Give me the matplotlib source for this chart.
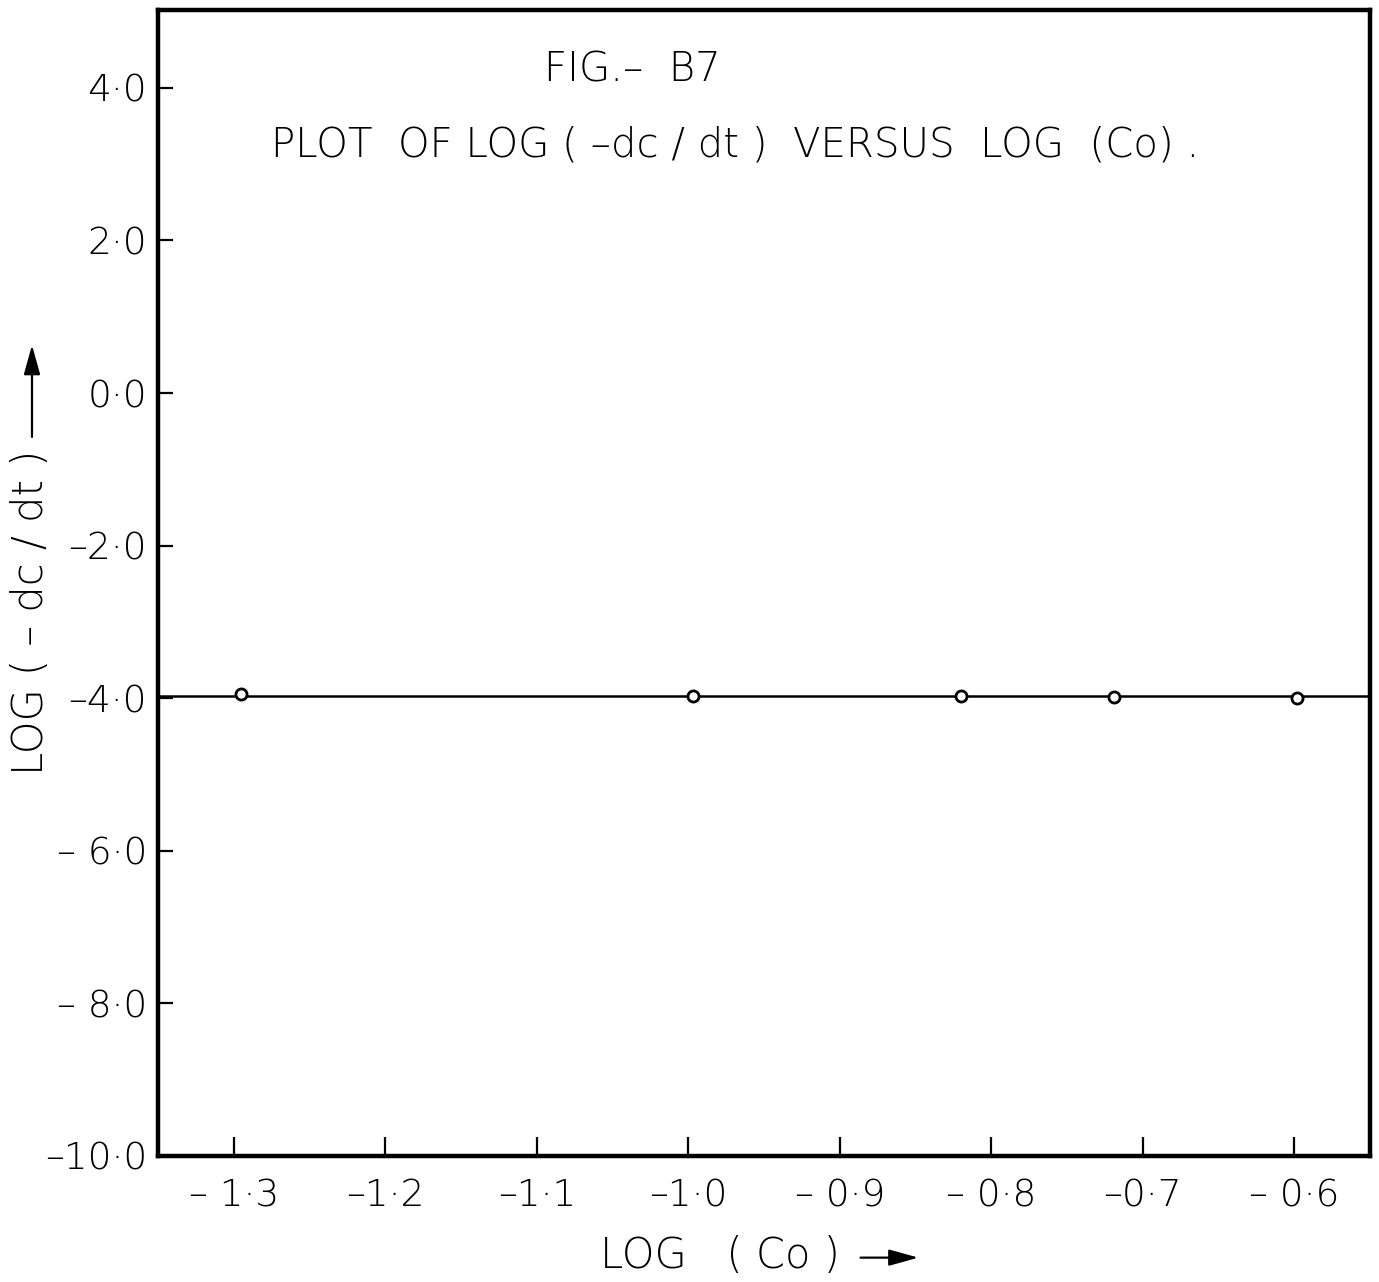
import matplotlib
matplotlib.use("Agg")
import matplotlib.pyplot as plt
import numpy as np

# log(Co) against log(-dc/dt)
log_co = [-1.295, -0.997, -0.820, -0.719, -0.598]
log_rate = [-3.95, -3.97, -3.97, -3.98, -4.00]

x_ticks = [-1.3, -1.2, -1.1, -1.0, -0.9, -0.8, -0.7, -0.6]
x_tick_labels = ["– 1·3", "–1·2", "–1·1", "–1·0", "– 0·9", "– 0·8", "–0·7", "– 0·6"]
y_ticks = [4.0, 2.0, 0.0, -2.0, -4.0, -6.0, -8.0, -10.0]
y_tick_labels = ["4·0", "2·0", "0·0", "–2·0", "–4·0", "– 6·0", "– 8·0", "–10·0"]

plt.rcParams["font.family"] = ["DejaVu Sans"]
plt.rcParams["font.weight"] = "light"

fig = plt.figure(figsize=(13.79, 12.82), dpi=100)
ax = fig.add_axes([0.1146, 0.0983, 0.8789, 0.8939])

# rate is practically constant: mean level drawn across the whole range
level = np.mean(log_rate)
ax.axhline(level, color="black", lw=1.8, zorder=2)
ax.plot(log_co, log_rate, ls="none", marker="o", ms=8, mfc="white",
        mec="black", mew=2.0, zorder=3)

ax.set_xlim(-1.35, -0.55)
ax.set_ylim(-10.0, 5.02)
ax.set_xticks(x_ticks)
ax.set_xticklabels(x_tick_labels)
ax.set_yticks(y_ticks)
ax.set_yticklabels(y_tick_labels)
ax.tick_params(axis="both", direction="in", width=1.6, labelsize=27)
ax.tick_params(axis="x", length=14, pad=16)
ax.tick_params(axis="y", length=11, pad=8)
for s in ax.spines.values():
    s.set_linewidth(3.2)

ax.text(0.391, 0.948, "FIG.–  B7", transform=ax.transAxes, fontsize=29,
        ha="center", va="center")
ax.text(0.093, 0.882, "PLOT  OF LOG ( –dc / dt )  VERSUS  LOG  (Co) .",
        transform=ax.transAxes, fontsize=29, ha="left", va="center")

# axis captions with hand-drawn style arrows
fig.text(0.022, 0.5226, "LOG ( – dc / dt )", rotation=90, fontsize=30,
         ha="center", va="center")
fig.text(0.522, 0.021, "LOG   ( Co )", fontsize=30, ha="center", va="center")
fig.add_artist(matplotlib.patches.FancyArrowPatch(
    (0.0232, 0.657), (0.0232, 0.733), transform=fig.transFigure,
    arrowstyle="-|>,head_length=0.9,head_width=0.25", mutation_scale=20,
    color="black", lw=1.6))
fig.add_artist(matplotlib.patches.FancyArrowPatch(
    (0.622, 0.019), (0.668, 0.019), transform=fig.transFigure,
    arrowstyle="-|>,head_length=0.9,head_width=0.25", mutation_scale=20,
    color="black", lw=1.6))

fig.savefig("out.png", dpi=100, facecolor="white")
plt.close(fig)
